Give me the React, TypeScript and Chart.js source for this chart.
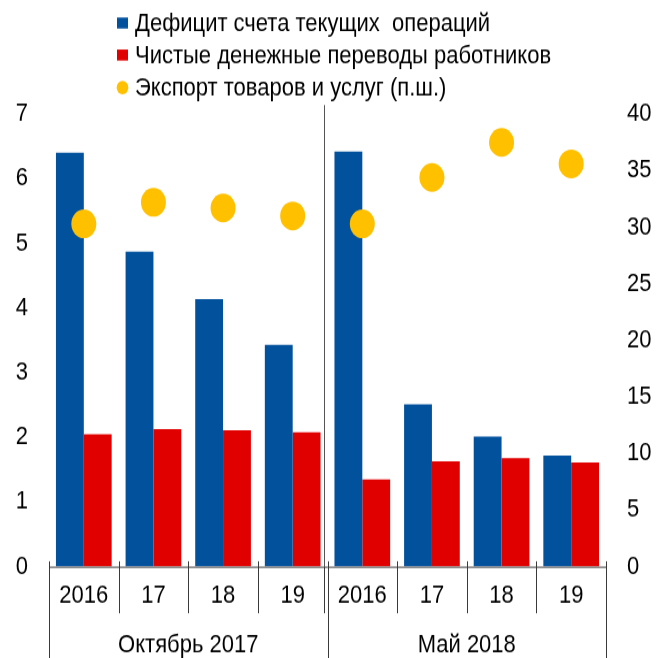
import React, { useEffect, useRef } from 'react';
import { Chart, registerables } from 'chart.js';

Chart.register(...registerables);

// ---- data ----
const categories = ['2016', '17', '18', '19', '2016', '17', '18', '19'];
const groups = ['Октябрь 2017', 'Май 2018'];
const deficit = [6.4, 4.87, 4.14, 3.43, 6.42, 2.51, 2.01, 1.72];
const remittances = [2.05, 2.13, 2.11, 2.08, 1.35, 1.63, 1.68, 1.61];
const exportsRhs = [30.3, 32.2, 31.7, 31.0, 30.3, 34.4, 37.5, 35.6];
const seriesLabels = [
  'Дефицит счета текущих  операций',
  'Чистые денежные переводы работников',
  'Экспорт товаров и услуг (п.ш.)',
];
const leftRange = [0, 7, 1];
const rightRange = [0, 40, 5];

// The reference picture is vertically stretched; the canvas is drawn at
// a smaller height and shown stretched by STRETCH.
const W = 663;
const H_OUT = 658;
const STRETCH = 1.15;
const H_IN = Math.round(H_OUT / STRETCH);

const BLUE = '#02519D';
const RED = '#E10000';
const YELLOW = '#FFC000';
const FONT = '"Liberation Sans", Arial, sans-serif';
const FS = 22;
const LINE = '#3a3a3a';

const sy = (v: number) => v / STRETCH;

const legendPlugin = {
  id: 'customLegend',
  afterDraw(chart: any) {
    const ctx = chart.ctx;
    ctx.save();
    chart.data.datasets.forEach((ds: any, i: number) => {
      const cy = sy(23 + i * 32);
      ctx.fillStyle = ds.legendColor;
      if (ds.type === 'line') {
        ctx.beginPath();
        ctx.arc(122.5, cy + 0.5, 5.8, 0, Math.PI * 2);
        ctx.fill();
      } else {
        ctx.fillRect(117, cy - sy(5.5), 11, sy(11));
      }
      ctx.fillStyle = '#000';
      ctx.font = `${FS}px ${FONT}`;
      ctx.textBaseline = 'middle';
      ctx.textAlign = 'left';
      ctx.fillText(ds.label, 135, cy + 1);
    });
    ctx.restore();
  },
};

const axisPlugin = {
  id: 'groupAxis',
  afterDraw(chart: any) {
    const ctx = chart.ctx;
    const xs = chart.scales.x;
    const area = chart.chartArea;
    const n = categories.length;
    const w = xs.getPixelForValue(1) - xs.getPixelForValue(0);
    const H = chart.height;
    ctx.save();
    ctx.strokeStyle = LINE;
    ctx.lineWidth = 1;
    const yb = area.bottom + 0.5;
    ctx.beginPath();
    ctx.moveTo(xs.getPixelForValue(0) - w / 2, yb);
    ctx.lineTo(xs.getPixelForValue(n - 1) + w / 2, yb);
    ctx.stroke();
    const per = n / groups.length;
    const up = sy(6);
    const down = sy(46);
    for (let k = 0; k <= n; k++) {
      const bx = Math.round(xs.getPixelForValue(k) - w / 2) + 0.5;
      const outer = k === 0 || k === n;
      const group = !outer && k % per === 0;
      const tx = group ? bx - 4 : bx;
      ctx.beginPath();
      ctx.moveTo(tx, yb - up);
      ctx.lineTo(tx, outer ? H : yb + down);
      ctx.stroke();
      if (group) {
        ctx.strokeStyle = '#555';
        ctx.beginPath();
        ctx.moveTo(tx, sy(105));
        ctx.lineTo(tx, yb);
        ctx.stroke();
        ctx.strokeStyle = LINE;
        ctx.beginPath();
        ctx.moveTo(bx, yb - up);
        ctx.lineTo(bx, H);
        ctx.stroke();
      }
    }
    ctx.fillStyle = '#000';
    ctx.font = `${FS}px ${FONT}`;
    ctx.textAlign = 'center';
    ctx.textBaseline = 'middle';
    groups.forEach((g, gi) => {
      const cx = (xs.getPixelForValue(gi * per) + xs.getPixelForValue(gi * per + per - 1)) / 2;
      ctx.fillText(g, cx, yb + sy(78));
    });
    ctx.restore();
  },
};

export default function App() {
  const ref = useRef<HTMLCanvasElement | null>(null);
  useEffect(() => {
    if (!ref.current) return;
    const chart = new Chart(ref.current, {
      type: 'bar',
      data: {
        labels: categories,
        datasets: [
          {
            type: 'bar',
            label: seriesLabels[0],
            data: deficit,
            backgroundColor: BLUE,
            legendColor: BLUE,
            yAxisID: 'y',
            order: 2,
            categoryPercentage: 0.8,
            barPercentage: 1.0,
          } as any,
          {
            type: 'bar',
            label: seriesLabels[1],
            data: remittances,
            backgroundColor: RED,
            legendColor: RED,
            yAxisID: 'y',
            order: 2,
            categoryPercentage: 0.8,
            barPercentage: 1.0,
          } as any,
          {
            type: 'line',
            label: seriesLabels[2],
            data: exportsRhs,
            showLine: false,
            pointRadius: 12.5,
            pointHoverRadius: 12.5,
            pointBackgroundColor: YELLOW,
            pointBorderColor: YELLOW,
            pointBorderWidth: 0,
            backgroundColor: YELLOW,
            legendColor: YELLOW,
            yAxisID: 'y1',
            order: 1,
          } as any,
        ],
      },
      options: {
        responsive: false,
        devicePixelRatio: 1,
        animation: false,
        layout: { padding: { top: sy(114), left: 0, right: 0, bottom: 0 } },
        plugins: {
          legend: { display: false },
          tooltip: { enabled: false },
        },
        scales: {
          x: {
            offset: true,
            grid: { display: false, drawTicks: false },
            border: { display: false },
            ticks: {
              color: '#000',
              font: { family: FONT, size: FS },
              padding: 12,
              maxRotation: 0,
              autoSkip: false,
            },
            afterFit: (s: any) => {
              s.height = H_IN - sy(566.5);
            },
          },
          y: {
            position: 'left',
            min: leftRange[0],
            max: leftRange[1],
            grid: { display: false, drawTicks: false },
            border: { display: false },
            ticks: {
              stepSize: leftRange[2],
              color: '#000',
              font: { family: FONT, size: FS },
              padding: 21,
            },
            afterFit: (s: any) => {
              s.width = 49;
            },
          },
          y1: {
            position: 'right',
            min: rightRange[0],
            max: rightRange[1],
            grid: { display: false, drawTicks: false },
            border: { display: false },
            ticks: {
              stepSize: rightRange[2],
              color: '#000',
              font: { family: FONT, size: FS },
              padding: 21,
            },
            afterFit: (s: any) => {
              s.width = 57;
            },
          },
        },
      },
      plugins: [legendPlugin, axisPlugin],
    });
    return () => chart.destroy();
  }, []);
  return (
    <div style={{ position: 'absolute', left: 0, top: 0, width: W, height: H_OUT, background: '#fff' }}>
      <canvas
        ref={ref}
        width={W}
        height={H_IN}
        style={{ display: 'block', width: `${W}px`, height: `${H_OUT}px` }}
      />
    </div>
  );
}
